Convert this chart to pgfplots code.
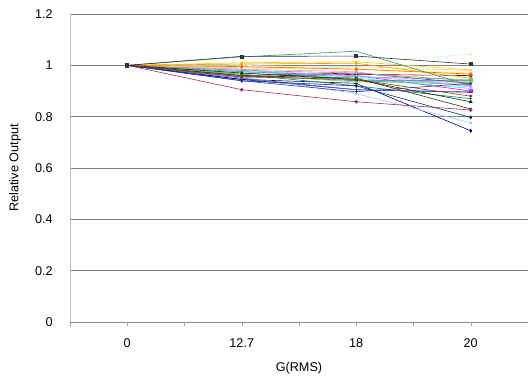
\documentclass[border=0pt]{standalone}
\usepackage{pgfplots}
\pgfplotsset{compat=1.18}
\usepackage{fontspec}
\setmainfont{Liberation Sans}
\definecolor{s1}{HTML}{000080}
\definecolor{s2}{HTML}{FF00FF}
\definecolor{s3}{HTML}{FFFF00}
\definecolor{s4}{HTML}{00FFFF}
\definecolor{s5}{HTML}{800080}
\definecolor{s6}{HTML}{800000}
\definecolor{s7}{HTML}{008080}
\definecolor{s8}{HTML}{0000FF}
\definecolor{s9}{HTML}{00CCFF}
\definecolor{s10}{HTML}{CCFFFF}
\definecolor{s11}{HTML}{CCFFCC}
\definecolor{s12}{HTML}{FFFF99}
\definecolor{s13}{HTML}{99CCFF}
\definecolor{s14}{HTML}{FF99CC}
\definecolor{s15}{HTML}{CC99FF}
\definecolor{s16}{HTML}{FFCC99}
\definecolor{s17}{HTML}{3366FF}
\definecolor{s18}{HTML}{33CCCC}
\definecolor{s19}{HTML}{99CC00}
\definecolor{s20}{HTML}{FFCC00}
\definecolor{s21}{HTML}{FF9900}
\definecolor{s22}{HTML}{FF6600}
\definecolor{s23}{HTML}{666699}
\definecolor{s24}{HTML}{969696}
\definecolor{s25}{HTML}{003366}
\definecolor{s26}{HTML}{339966}
\definecolor{s27}{HTML}{003300}
\definecolor{s28}{HTML}{333300}
\definecolor{s29}{HTML}{993300}
\definecolor{s30}{HTML}{993366}
\definecolor{s31}{HTML}{333399}
\definecolor{s32}{HTML}{333333}
\begin{document}
\begin{tikzpicture}
\begin{axis}[
  at={(0,0)}, anchor=south west,
  scale only axis, width=343.5pt, height=231pt,
  xmin=0, xmax=8, ymin=0, ymax=1.2,
  axis x line=bottom, axis y line=left,
  axis line style={-},
  x axis line style={draw=black!45},
  y axis line style={draw=black!25},
  xtick={1,3,5,7}, xticklabels={0,12.7,18,20},
  minor xtick={0,2,4,6,8},
  ytick={0,0.2,0.4,0.6,0.8,1,1.2},
  ymajorgrids, grid style={draw=black!50, line width=0.6pt},
  ytick style={draw=none},
  xtick style={draw=black!35},
  tick align=outside,
  major tick length=3pt, minor tick length=3pt,
  /pgf/number format/assume math mode=true,
  tick label style={font=\fontsize{9.5}{11}\selectfont},
  yticklabel style={xshift=-6.5pt},
  xticklabel style={yshift=-6pt},
  label style={font=\fontsize{9.5}{11}\selectfont},
  xlabel={G(RMS)},
  xlabel style={at={(axis description cs:0.5,-0.15)}, anchor=center},
  ylabel={Relative Output},
  ylabel style={at={(axis description cs:-0.12,0.5)}, anchor=center},
  every axis plot/.append style={line width=0.45pt, mark size=1.15pt},
]
\addplot[s1, mark=diamond*] coordinates {(1,1) (3,0.945) (5,0.930) (7,0.745)};
\addplot[s2, mark=square*] coordinates {(1,1) (3,0.975) (5,0.960) (7,0.900)};
\addplot[s3, mark=triangle*] coordinates {(1,1) (3,0.990) (5,0.985) (7,0.970)};
\addplot[s4, mark=x] coordinates {(1,1) (3,0.970) (5,0.950) (7,0.910)};
\addplot[s5, mark=asterisk] coordinates {(1,1) (3,0.960) (5,0.970) (7,0.930)};
\addplot[s6, mark=*] coordinates {(1,1) (3,0.955) (5,0.965) (7,0.960)};
\addplot[s7, mark=+] coordinates {(1,1) (3,0.965) (5,0.920) (7,0.870)};
\addplot[s8, mark=-] coordinates {(1,1) (3,0.945) (5,0.905) (7,0.895)};
\addplot[s9, mark=diamond*] coordinates {(1,1) (3,0.985) (5,0.940) (7,0.925)};
\addplot[s10, mark=square*] coordinates {(1,1) (3,1.000) (5,0.990) (7,0.980)};
\addplot[s11, mark=triangle*] coordinates {(1,1) (3,1.005) (5,1.010) (7,1.043)};
\addplot[s12, mark=x] coordinates {(1,1) (3,0.995) (5,0.985) (7,0.950)};
\addplot[s13, mark=asterisk] coordinates {(1,1) (3,0.955) (5,0.890) (7,0.776)};
\addplot[s14, mark=*] coordinates {(1,1) (3,0.985) (5,0.975) (7,0.915)};
\addplot[s15, mark=+] coordinates {(1,1) (3,0.980) (5,0.960) (7,0.920)};
\addplot[s16, mark=-] coordinates {(1,1) (3,0.990) (5,0.995) (7,0.980)};
\addplot[s17, mark=diamond*] coordinates {(1,1) (3,0.960) (5,0.940) (7,0.940)};
\addplot[s18, mark=square*] coordinates {(1,1) (3,0.975) (5,0.955) (7,0.945)};
\addplot[s19, mark=triangle*] coordinates {(1,1) (3,0.965) (5,0.935) (7,0.935)};
\addplot[s20, mark=x] coordinates {(1,1) (3,1.010) (5,1.014) (7,0.982)};
\addplot[s21, mark=asterisk] coordinates {(1,1) (3,1.005) (5,1.008) (7,0.950)};
\addplot[s22, mark=*] coordinates {(1,1) (3,0.995) (5,0.985) (7,0.966)};
\addplot[s23, mark=+] coordinates {(1,1) (3,0.950) (5,0.905) (7,0.897)};
\addplot[s24, mark=-] coordinates {(1,1) (3,0.980) (5,0.970) (7,0.940)};
\addplot[s25, mark=diamond*] coordinates {(1,1) (3,0.940) (5,0.920) (7,0.797)};
\addplot[s26, mark=none] coordinates {(1,1) (3,1.033) (5,1.055) (7,0.920)};
\addplot[s27, mark=triangle*] coordinates {(1,1) (3,0.970) (5,0.945) (7,0.858)};
\addplot[s28, mark=x] coordinates {(1,1) (3,0.960) (5,0.950) (7,0.830)};
\addplot[s29, mark=asterisk] coordinates {(1,1) (3,0.955) (5,0.945) (7,0.880)};
\addplot[s30, mark=*] coordinates {(1,1) (3,0.905) (5,0.858) (7,0.826)};
\addplot[s31, mark=+] coordinates {(1,1) (3,0.940) (5,0.897) (7,0.930)};
\addplot[s32, mark=square*] coordinates {(1,1) (3,1.035) (5,1.036) (7,1.005)};
\end{axis}
\pgfresetboundingbox
\path (-52.5pt,-42pt) rectangle (343.5pt,241.5pt);
\end{tikzpicture}
\end{document}
